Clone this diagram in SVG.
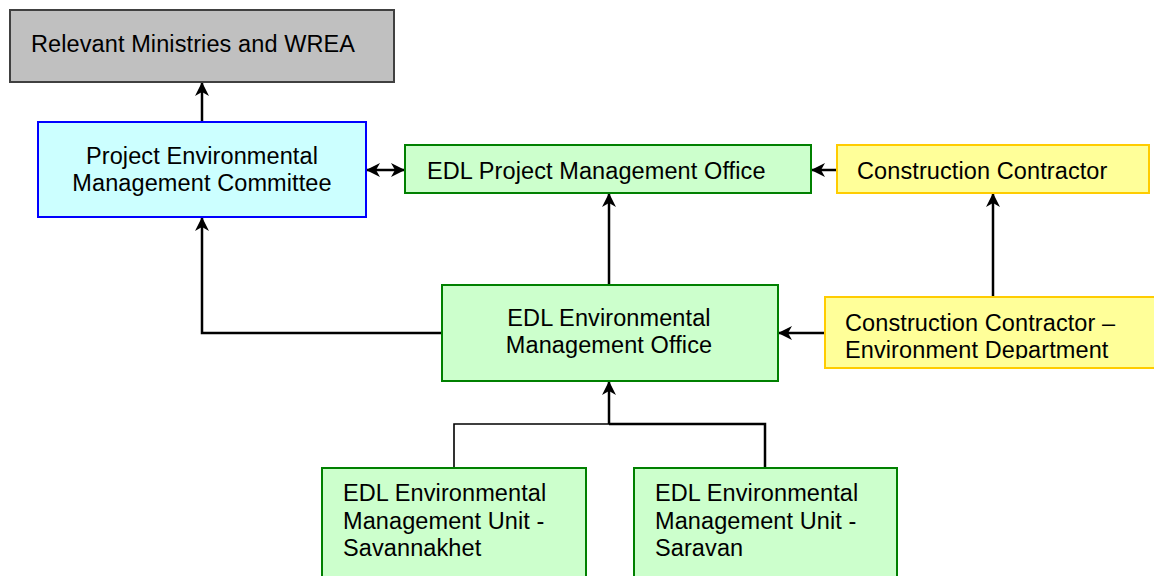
<svg xmlns="http://www.w3.org/2000/svg" width="1154" height="576" viewBox="0 0 1154 576">
<style>
text{font-family:"Liberation Sans",Arial,sans-serif;font-size:23.5px;fill:#000;letter-spacing:0.1px}
.gray{fill:#c0c0c0;stroke:#404040;stroke-width:2}
.blue{fill:#ccffff;stroke:#0000ff;stroke-width:2}
.green{fill:#ccffcc;stroke:#008000;stroke-width:2}
.yellow{fill:#ffff99;stroke:#ffcc00;stroke-width:2}
.c{text-anchor:middle}
.conn{fill:none;stroke:#000;stroke-width:2.5}
.thin{fill:none;stroke:#000;stroke-width:1.6}
</style>
<defs>
<marker id="ah" viewBox="0 0 14 14" refX="13" refY="7" markerWidth="14" markerHeight="14" markerUnits="userSpaceOnUse" orient="auto-start-reverse">
<path d="M0,0 L14,7 L0,14 L4,7 z" fill="#000"/>
</marker>
<clipPath id="clipEnv"><rect x="820" y="290" width="334" height="69"/></clipPath>
</defs>
<rect width="1154" height="576" fill="#fff"/>
<g id="connectors">
<line class="conn" x1="202" y1="122" x2="202" y2="83" marker-end="url(#ah)"/>
<line class="conn" x1="367" y1="170" x2="404" y2="170" marker-start="url(#ah)" marker-end="url(#ah)"/>
<line class="conn" x1="837" y1="170" x2="812" y2="170" marker-end="url(#ah)"/>
<line class="conn" x1="993" y1="297" x2="993" y2="194" marker-end="url(#ah)"/>
<line class="conn" x1="609" y1="285" x2="609" y2="194" marker-end="url(#ah)"/>
<path class="conn" d="M442,333 H202 V218" marker-end="url(#ah)"/>
<line class="conn" x1="825" y1="333" x2="779" y2="333" marker-end="url(#ah)"/>
<path class="thin" d="M454,468 V424 H609"/>
<path class="conn" d="M765,468 V424 H609"/>
<line class="conn" x1="609" y1="424" x2="609" y2="382" marker-end="url(#ah)"/>
</g>
<g id="ministries">
<rect class="gray" x="10" y="10" width="384" height="72"/>
<text x="31" y="52">Relevant Ministries and WREA</text>
</g>
<g id="pemc">
<rect class="blue" x="38" y="122" width="328" height="95"/>
<text class="c" x="202" y="164">Project Environmental</text>
<text class="c" x="202" y="191">Management Committee</text>
</g>
<g id="pmo">
<rect class="green" x="405" y="145" width="406" height="48"/>
<text x="427" y="179">EDL Project Management Office</text>
</g>
<g id="contractor">
<rect class="yellow" x="837" y="145" width="312" height="48"/>
<text x="857" y="179">Construction Contractor</text>
</g>
<g id="contractor-env">
<rect class="yellow" x="825" y="297" width="340" height="71"/>
<g clip-path="url(#clipEnv)">
<text x="845" y="331">Construction Contractor –</text>
<text x="845" y="358">Environment Department</text>
</g>
</g>
<g id="emo">
<rect class="green" x="442" y="285" width="336" height="96"/>
<text class="c" x="609" y="326">EDL Environmental</text>
<text class="c" x="609" y="353">Management Office</text>
</g>
<g id="emu-savannakhet">
<rect class="green" x="322" y="468" width="264" height="120"/>
<text x="343" y="501">EDL Environmental</text>
<text x="343" y="529">Management Unit -</text>
<text x="343" y="556">Savannakhet</text>
</g>
<g id="emu-saravan">
<rect class="green" x="634" y="468" width="263" height="120"/>
<text x="655" y="501">EDL Environmental</text>
<text x="655" y="529">Management Unit -</text>
<text x="655" y="556">Saravan</text>
</g>
</svg>
